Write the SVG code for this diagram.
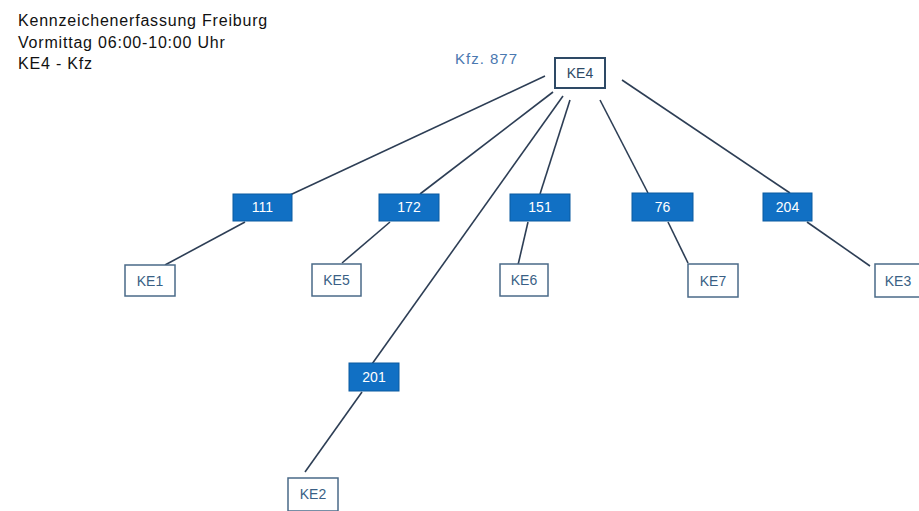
<svg xmlns="http://www.w3.org/2000/svg" width="919" height="511" viewBox="0 0 919 511">
<style>
.bg{fill:#ffffff}
.title{font-family:"Liberation Sans",Arial,sans-serif;font-size:16px;letter-spacing:0.8px;fill:#111111}
.cnt{font-family:"Liberation Sans",Arial,sans-serif;font-size:15px;letter-spacing:1px;fill:#4a78b0}
.blue rect{fill:#1170c4;stroke:#0b5aa0;stroke-width:1}
.blue text{font-family:"Liberation Sans",Arial,sans-serif;font-size:14px;fill:#ffffff;text-anchor:middle}
.ke rect{fill:#ffffff;stroke:#4a6a88;stroke-width:1.5}
.ke text{font-family:"Liberation Sans",Arial,sans-serif;font-size:14px;fill:#3a5f85;text-anchor:middle}
.root rect{fill:#ffffff;stroke:#2e4a66;stroke-width:2}
.root text{font-family:"Liberation Sans",Arial,sans-serif;font-size:14px;fill:#2e4a66;text-anchor:middle}
#connectors line{stroke:#2d3e55;stroke-width:1.6;fill:none}
</style>
<rect class="bg" x="0" y="0" width="919" height="511"/>
<g id="title">
<text class="title" x="18" y="26">Kennzeichenerfassung Freiburg</text>
<text class="title" x="18" y="48">Vormittag 06:00-10:00 Uhr</text>
<text class="title" x="18" y="69">KE4 - Kfz</text>
</g>
<text class="cnt" x="455" y="64">Kfz. 877</text>
<g id="connectors">
<line x1="545" y1="76" x2="290" y2="195"/>
<line x1="553" y1="92" x2="420" y2="194"/>
<line x1="563" y1="96" x2="372" y2="364"/>
<line x1="570" y1="100" x2="540" y2="194"/>
<line x1="600" y1="100" x2="648" y2="193"/>
<line x1="622" y1="80" x2="790" y2="193"/>
<line x1="245" y1="222" x2="165" y2="265"/>
<line x1="390" y1="222" x2="342" y2="263"/>
<line x1="528" y1="222" x2="518" y2="265"/>
<line x1="668" y1="222" x2="688" y2="263"/>
<line x1="807" y1="222" x2="870" y2="266"/>
<line x1="362" y1="392" x2="305" y2="472"/>
</g>
<g id="KE4" class="root"><rect x="555" y="58" width="50" height="30"/><text x="580" y="78">KE4</text></g>
<g id="n111" class="blue"><rect x="233" y="194" width="59" height="27"/><text x="262.5" y="212">111</text></g>
<g id="n172" class="blue"><rect x="379" y="194" width="60" height="27"/><text x="409" y="212">172</text></g>
<g id="n151" class="blue"><rect x="510" y="194" width="60" height="27"/><text x="540" y="212">151</text></g>
<g id="n76" class="blue"><rect x="632" y="193" width="61" height="28"/><text x="662.5" y="212">76</text></g>
<g id="n204" class="blue"><rect x="763" y="193" width="49" height="28"/><text x="787.5" y="212">204</text></g>
<g id="n201" class="blue"><rect x="349" y="363" width="50" height="28"/><text x="374" y="382">201</text></g>
<g id="KE1" class="ke"><rect x="125" y="265" width="50" height="31"/><text x="150" y="286">KE1</text></g>
<g id="KE5" class="ke"><rect x="312" y="264" width="49" height="32"/><text x="336.5" y="285">KE5</text></g>
<g id="KE6" class="ke"><rect x="500" y="264" width="48" height="32"/><text x="524" y="285">KE6</text></g>
<g id="KE7" class="ke"><rect x="688" y="264" width="50" height="33"/><text x="713" y="286">KE7</text></g>
<g id="KE3" class="ke"><rect x="875" y="264" width="50" height="33"/><text x="898" y="286">KE3</text></g>
<g id="KE2" class="ke"><rect x="288" y="478" width="50" height="33"/><text x="313" y="499">KE2</text></g>
</svg>
